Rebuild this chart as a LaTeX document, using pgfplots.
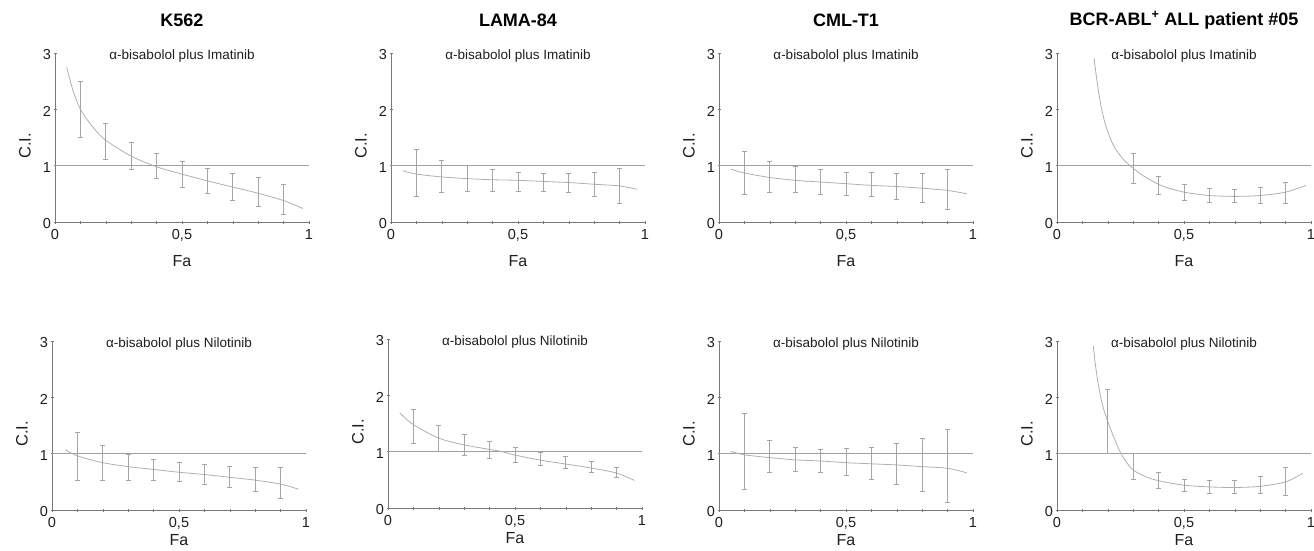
\documentclass[border=0pt]{standalone}
\usepackage{fontspec}
\setmainfont{Liberation Sans}
\usepackage{pgfplots}
\pgfplotsset{compat=1.18}
\definecolor{axgray}{RGB}{120,120,120}
\definecolor{cvgray}{RGB}{175,175,175}
\definecolor{ergray}{RGB}{165,165,165}
\definecolor{refgray}{RGB}{160,160,160}
\definecolor{txt}{RGB}{30,30,30}
\pgfplotsset{
  panel/.style={
    scale only axis, width=254pt, height=169pt,
    xmin=0, xmax=1, ymin=0, ymax=3,
    axis lines*=left, axis line style={axgray, line width=0.8pt, -},
    xtick={0,0.5,1}, xticklabels={0,{0,5},1},
    minor xtick={0.1,0.2,0.3,0.4,0.6,0.7,0.8,0.9},
    ytick={0,1,2,3}, yticklabels={0,1,2,3},
    tick align=center, major tick length=3pt, minor tick length=3pt,
    every tick/.style={axgray, line width=0.6pt},
    every minor tick/.style={axgray, line width=0.6pt},
    tick label style={font=\fontsize{14.5pt}{16pt}\selectfont, text=txt},
    xticklabel style={yshift=-2pt},
    yticklabel style={yshift=-2pt, xshift=1pt},
    xlabel={Fa}, ylabel={C.I.},
    every axis x label/.style={at={(axis description cs:0.5,-0.23)}, anchor=center, font=\fontsize{16pt}{18pt}\selectfont, text=txt},
    every axis y label/.style={at={(axis description cs:-0.118,0.45)}, anchor=center, rotate=90, font=\fontsize{16.5pt}{18pt}\selectfont, text=txt},
    every axis title/.style={at={(axis description cs:0.5,1.195)}, anchor=center, font=\fontsize{18pt}{20pt}\selectfont\bfseries},
    clip=false,
  },
  lowrow/.style={every axis x label/.style={at={(axis description cs:0.5,-0.178)}, anchor=center, font=\fontsize{16pt}{18pt}\selectfont, text=txt}},
  curve/.style={cvgray, line width=0.8pt, smooth, mark=none},
  refline/.style={refgray, line width=0.8pt, mark=none},
  ebars/.style={draw=none, mark=none,
    error bars/.cd, y dir=both, y explicit,
    error bar style={draw=ergray, line width=0.7pt},
    error mark options={rotate=90, draw=ergray, mark size=2.5pt, line width=0.7pt}},
}
\newcommand{\sub}[1]{\node[font=\fontsize{13.5pt}{15pt}\selectfont, text=txt] at (axis description cs:0.5,0.98) {#1};}
\begin{document}
\begin{tikzpicture}
\useasboundingbox (0pt,0pt) rectangle (1314pt,-551pt);
% ---------- Row 1 ----------
\begin{axis}[panel, at={(55pt,-222pt)}, anchor=south west, title={K562}]
\addplot[refline] coordinates {(0,1) (1,1)};
\addplot[curve] coordinates {(0.046,2.75) (0.07,2.35) (0.1,2.0) (0.15,1.68) (0.2,1.45) (0.3,1.17) (0.4,0.98) (0.5,0.85) (0.6,0.73) (0.7,0.62) (0.8,0.51) (0.9,0.38) (0.976,0.24)};
\addplot[ebars] coordinates {
(0.1,2.00) +- (0,0.49) (0.2,1.435) +- (0,0.315) (0.3,1.17) +- (0,0.24)
(0.4,0.995) +- (0,0.225) (0.5,0.85) +- (0,0.23) (0.6,0.735) +- (0,0.225)
(0.7,0.625) +- (0,0.245) (0.8,0.53) +- (0,0.26) (0.9,0.40) +- (0,0.27)};
\sub{α-bisabolol plus Imatinib}
\end{axis}
\begin{axis}[panel, at={(391pt,-222pt)}, anchor=south west, title={LAMA-84}]
\addplot[refline] coordinates {(0,1) (1,1)};
\addplot[curve] coordinates {(0.046,0.91) (0.1,0.85) (0.2,0.80) (0.3,0.77) (0.4,0.75) (0.5,0.74) (0.6,0.72) (0.7,0.70) (0.8,0.67) (0.9,0.64) (0.97,0.58)};
\addplot[ebars] coordinates {
(0.1,0.875) +- (0,0.415) (0.2,0.81) +- (0,0.29) (0.3,0.77) +- (0,0.23)
(0.4,0.745) +- (0,0.195) (0.5,0.72) +- (0,0.17) (0.6,0.705) +- (0,0.165)
(0.7,0.695) +- (0,0.175) (0.8,0.665) +- (0,0.215) (0.9,0.64) +- (0,0.31)};
\sub{α-bisabolol plus Imatinib}
\end{axis}
\begin{axis}[panel, at={(719pt,-222pt)}, anchor=south west, title={CML-T1}]
\addplot[refline] coordinates {(0,1) (1,1)};
\addplot[curve] coordinates {(0.046,0.94) (0.1,0.87) (0.2,0.79) (0.3,0.74) (0.4,0.71) (0.5,0.68) (0.6,0.65) (0.7,0.63) (0.8,0.60) (0.9,0.56) (0.976,0.50)};
\addplot[ebars] coordinates {
(0.1,0.875) +- (0,0.385) (0.2,0.795) +- (0,0.275) (0.3,0.755) +- (0,0.235)
(0.4,0.71) +- (0,0.22) (0.5,0.685) +- (0,0.205) (0.6,0.665) +- (0,0.215)
(0.7,0.635) +- (0,0.225) (0.8,0.605) +- (0,0.265) (0.9,0.575) +- (0,0.355)};
\sub{α-bisabolol plus Imatinib}
\end{axis}
\begin{axis}[panel, at={(1057pt,-222pt)}, anchor=south west, title={BCR-ABL\textsuperscript{+} ALL patient \#05}]
\addplot[refline] coordinates {(0,1) (1,1)};
\addplot[curve] coordinates {(0.146,2.91) (0.155,2.58) (0.165,2.27) (0.175,2.02) (0.19,1.74) (0.21,1.48) (0.23,1.30) (0.26,1.12) (0.29,0.99) (0.33,0.85) (0.37,0.74) (0.42,0.63) (0.5,0.53) (0.6,0.47) (0.7,0.455) (0.8,0.47) (0.9,0.53) (0.98,0.65)};
\addplot[ebars] coordinates {
(0.3,0.955) +- (0,0.265) (0.4,0.65) +- (0,0.16) (0.5,0.525) +- (0,0.135)
(0.6,0.465) +- (0,0.125) (0.7,0.46) +- (0,0.12) (0.8,0.47) +- (0,0.14)
(0.9,0.52) +- (0,0.19)};
\sub{α-bisabolol plus Imatinib}
\end{axis}
% ---------- Row 2 ----------
\begin{axis}[panel, lowrow, at={(52pt,-510pt)}, anchor=south west]
\addplot[refline] coordinates {(0,1) (1,1)};
\addplot[curve] coordinates {(0.052,1.07) (0.1,0.96) (0.2,0.84) (0.3,0.77) (0.4,0.72) (0.5,0.67) (0.6,0.63) (0.7,0.58) (0.8,0.53) (0.9,0.46) (0.97,0.37)};
\addplot[ebars] coordinates {
(0.1,0.955) +- (0,0.425) (0.2,0.835) +- (0,0.305) (0.3,0.76) +- (0,0.23)
(0.4,0.71) +- (0,0.19) (0.5,0.67) +- (0,0.17) (0.6,0.635) +- (0,0.175)
(0.7,0.585) +- (0,0.185) (0.8,0.545) +- (0,0.215) (0.9,0.485) +- (0,0.275)};
\sub{α-bisabolol plus Nilotinib}
\end{axis}
\begin{axis}[panel, lowrow, at={(388pt,-508pt)}, anchor=south west]
\addplot[refline] coordinates {(0,1) (1,1)};
\addplot[curve] coordinates {(0.046,1.69) (0.1,1.48) (0.2,1.24) (0.3,1.12) (0.4,1.04) (0.45,1.0) (0.5,0.94) (0.6,0.85) (0.7,0.78) (0.8,0.71) (0.9,0.62) (0.97,0.49)};
\addplot[ebars] coordinates {
(0.1,1.45) +- (0,0.31) (0.2,1.235) +- (0,0.225) (0.3,1.12) +- (0,0.18)
(0.4,1.03) +- (0,0.15) (0.5,0.945) +- (0,0.135) (0.6,0.87) +- (0,0.12)
(0.7,0.805) +- (0,0.105) (0.8,0.73) +- (0,0.09) (0.9,0.63) +- (0,0.09)};
\sub{α-bisabolol plus Nilotinib}
\end{axis}
\begin{axis}[panel, lowrow, at={(719pt,-510pt)}, anchor=south west]
\addplot[refline] coordinates {(0,1) (1,1)};
\addplot[curve] coordinates {(0.046,1.04) (0.1,0.98) (0.2,0.93) (0.3,0.89) (0.4,0.87) (0.5,0.84) (0.6,0.82) (0.7,0.80) (0.8,0.77) (0.9,0.74) (0.976,0.66)};
\addplot[ebars] coordinates {
(0.1,1.045) +- (0,0.675) (0.2,0.945) +- (0,0.285) (0.3,0.90) +- (0,0.21)
(0.4,0.87) +- (0,0.21) (0.5,0.85) +- (0,0.24) (0.6,0.83) +- (0,0.29)
(0.7,0.815) +- (0,0.365) (0.8,0.805) +- (0,0.465) (0.9,0.785) +- (0,0.655)};
\sub{α-bisabolol plus Nilotinib}
\end{axis}
\begin{axis}[panel, lowrow, at={(1057pt,-510pt)}, anchor=south west]
\addplot[refline] coordinates {(0,1) (1,1)};
\addplot[curve] coordinates {(0.143,2.91) (0.15,2.62) (0.16,2.30) (0.172,2.0) (0.185,1.77) (0.2,1.57) (0.215,1.39) (0.23,1.22) (0.25,1.02) (0.27,0.87) (0.3,0.71) (0.35,0.59) (0.4,0.52) (0.5,0.44) (0.6,0.41) (0.7,0.40) (0.8,0.42) (0.9,0.50) (0.967,0.65)};
\addplot[ebars] coordinates {
(0.2,1.57) +- (0,0.57) (0.3,0.77) +- (0,0.23) (0.4,0.525) +- (0,0.145)
(0.5,0.445) +- (0,0.105) (0.6,0.405) +- (0,0.115) (0.7,0.405) +- (0,0.115)
(0.8,0.445) +- (0,0.155) (0.9,0.51) +- (0,0.25)};
\sub{α-bisabolol plus Nilotinib}
\end{axis}
\end{tikzpicture}
\end{document}
